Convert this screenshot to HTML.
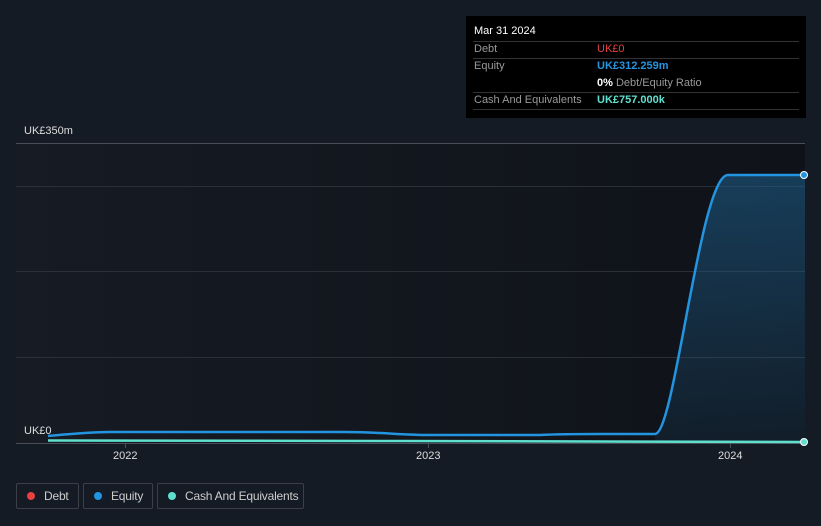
<!DOCTYPE html>
<html><head><meta charset="utf-8"><style>
body{margin:0;width:821px;height:526px;background:#151b25;font-family:"Liberation Sans",sans-serif;overflow:hidden;position:relative}
.t{position:absolute;font-size:11px;color:#ddd;white-space:nowrap}
.lg{position:absolute;top:483px;height:26px;border:1px solid #3a3f48;border-radius:2px;box-sizing:border-box;font-size:12px;color:#ccc;line-height:24px;white-space:nowrap;overflow:hidden;letter-spacing:-0.2px}
.lg i{display:inline-block;width:8px;height:8px;border-radius:50%;margin:0 9px 0 10px;vertical-align:0px}
</style></head><body>
<svg width="821" height="526" style="position:absolute;left:0;top:0">
<defs>
<linearGradient id="bg" x1="0" x2="1" y1="0" y2="0"><stop offset="0" stop-color="#161b24"/><stop offset="1" stop-color="#0f1218"/></linearGradient>
<linearGradient id="fa" x1="0" x2="0" y1="0" y2="1"><stop offset="0" stop-color="#1d5a85" stop-opacity="0.6"/><stop offset="1" stop-color="#1d5a85" stop-opacity="0.15"/></linearGradient>
</defs>
<rect x="16" y="143" width="789" height="300" fill="url(#bg)"/>
<line x1="16" y1="143.5" x2="805" y2="143.5" stroke="#4a4f57"/>
<line x1="16" y1="186.5" x2="805" y2="186.5" stroke="#2a2f38"/>
<line x1="16" y1="271.5" x2="805" y2="271.5" stroke="#2a2f38"/>
<line x1="16" y1="357.5" x2="805" y2="357.5" stroke="#2a2f38"/>
<line x1="16" y1="443.5" x2="805" y2="443.5" stroke="#4a4f57"/>
<line x1="125.5" y1="443" x2="125.5" y2="448" stroke="#4a4f57"/>
<line x1="428.5" y1="443" x2="428.5" y2="448" stroke="#4a4f57"/>
<line x1="730.5" y1="443" x2="730.5" y2="448" stroke="#4a4f57"/>
<path d="M655 434 C675 434 700 175 728 175 L805 175 L805 443 L655 443Z" fill="url(#fa)"/>
<path d="M48 436 C70 434 90 432 110 432 L345 432 C380 432 400 435 430 435 L540 435 C560 434 580 434 600 434 L655 434 C675 434 700 175 728 175 L805 175" fill="none" stroke="#2394e0" stroke-width="2.5"/>
<path d="M48 440.5 L400 441 L805 442" fill="none" stroke="#5fe0cf" stroke-width="2.5"/>
<circle cx="804" cy="175" r="3.5" fill="#2394e0" stroke="#fff" stroke-width="1"/>
<circle cx="804" cy="442" r="3.5" fill="#5fe0cf" stroke="#fff" stroke-width="1"/>
</svg>
<div class="t" style="left:24px;top:125px">UK£350m</div>
<div class="t" style="left:24px;top:425px">UK£0</div>
<div class="t" style="left:113px;top:450px">2022</div>
<div class="t" style="left:416px;top:450px">2023</div>
<div class="t" style="left:718px;top:450px">2024</div>
<div style="position:absolute;left:466px;top:16px;width:340px;height:102px;background:#000">
<div class="t" style="left:8px;top:9px;color:#fff">Mar 31 2024</div>
<div style="position:absolute;left:7px;right:7px;top:25px;border-top:1px solid #333"></div>
<div class="t" style="left:8px;top:27px;color:#999">Debt</div><div class="t" style="left:131px;top:27px;color:#e84040">UK£0</div>
<div style="position:absolute;left:7px;right:7px;top:42px;border-top:1px solid #333"></div>
<div class="t" style="left:8px;top:44px;color:#999">Equity</div><div class="t" style="left:131px;top:44px;color:#2394e0;font-weight:bold">UK£312.259m</div>
<div class="t" style="left:131px;top:61px;color:#999"><b style="color:#fff">0%</b> Debt/Equity Ratio</div>
<div style="position:absolute;left:7px;right:7px;top:76px;border-top:1px solid #333"></div>
<div class="t" style="left:8px;top:78px;color:#999">Cash And Equivalents</div><div class="t" style="left:131px;top:78px;color:#5fe0cf;font-weight:bold">UK£757.000k</div>
<div style="position:absolute;left:7px;right:7px;top:93px;border-top:1px solid #333"></div>
</div>
<div class="lg" style="left:16px;width:63px"><i style="background:#e84040"></i>Debt</div>
<div class="lg" style="left:83px;width:70px"><i style="background:#2394e0"></i>Equity</div>
<div class="lg" style="left:157px;width:147px"><i style="background:#5fe0cf"></i>Cash And Equivalents</div>
</body></html>
